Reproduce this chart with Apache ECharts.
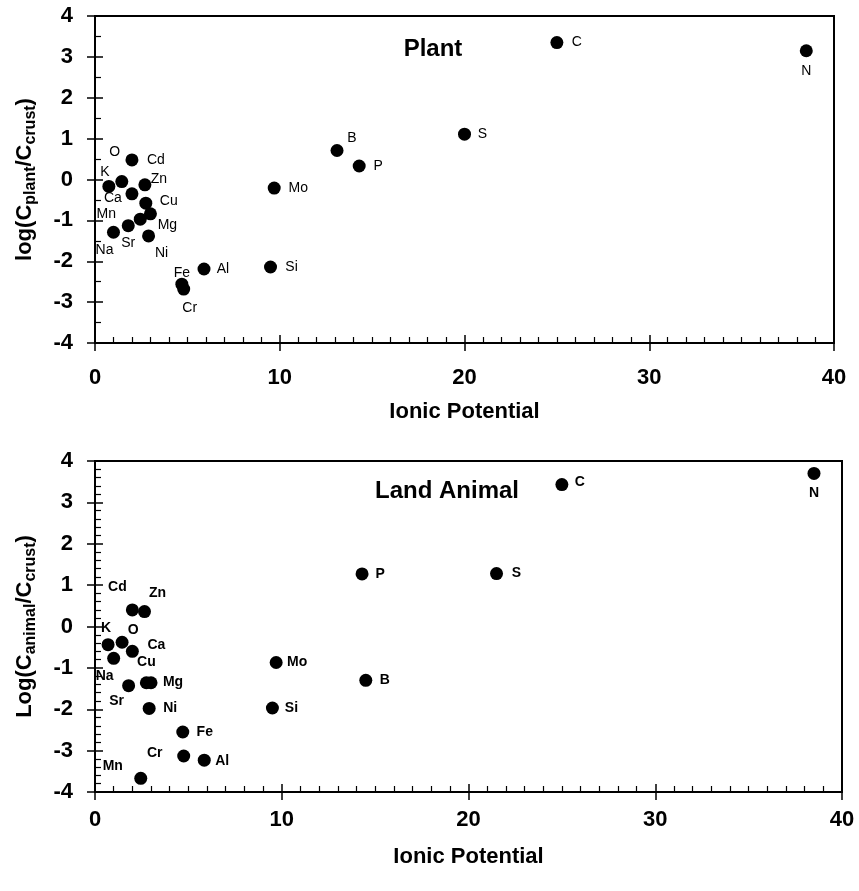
<!DOCTYPE html>
<html>
<head>
<meta charset="utf-8">
<script src="https://cdn.jsdelivr.net/npm/echarts@6/dist/echarts.min.js"></script>
<style>
  html, body { margin: 0; padding: 0; background: #fff; }
  #container { width: 859px; height: 891px; }
</style>
</head>
<body>
<div id="container"></div>
<script>
// plant panel
const plantElements = ['C', 'N', 'B', 'P', 'S', 'Mo', 'Si', 'Al', 'Fe', 'Cr', 'Cd', 'O', 'K', 'Zn', 'Ca', 'Cu', 'Mn', 'Mg', 'Sr', 'Na', 'Ni'];
const plantIonic = [25.0, 38.5, 13.1, 14.3, 20.0, 9.7, 9.5, 5.9, 4.7, 4.8, 2.0, 1.45, 0.75, 2.7, 2.0, 2.75, 2.45, 3.0, 1.8, 1.0, 2.9];
const plantLog = [3.35, 3.15, 0.71, 0.33, 1.11, -0.21, -2.14, -2.19, -2.56, -2.68, 0.48, -0.05, -0.17, -0.13, -0.35, -0.58, -0.97, -0.84, -1.13, -1.29, -1.38];

// land animal panel
const animalElements = ['C', 'N', 'P', 'S', 'Mo', 'B', 'Si', 'Cd', 'Zn', 'K', 'O', 'Ca', 'Na', 'Cu', 'Mg', 'Sr', 'Ni', 'Fe', 'Cr', 'Al', 'Mn'];
const animalIonic = [25.0, 38.5, 14.3, 21.5, 9.7, 14.5, 9.5, 2.0, 2.65, 0.7, 1.45, 2.0, 1.0, 2.75, 3.0, 1.8, 2.9, 4.7, 4.75, 5.85, 2.45];
const animalLog = [3.43, 3.7, 1.27, 1.28, -0.87, -1.3, -1.97, 0.4, 0.36, -0.44, -0.38, -0.6, -0.77, -1.36, -1.36, -1.43, -1.98, -2.55, -3.13, -3.23, -3.67];

const xTicks = [0, 10, 20, 30, 40];
const yTicks = [-4, -3, -2, -1, 0, 1, 2, 3, 4];

// where each element name sits relative to its dot (px)
const plantLabelOffset = {
  C: [20, 0], N: [0, 20], B: [15, -12], P: [19, 0], S: [18, 0], Mo: [24, 0], Si: [21, 0],
  Al: [19, 0], Fe: [0, -11], Cr: [6, 19], Cd: [24, 0], O: [-7, -29], K: [-4, -14],
  Zn: [14, -6], Ca: [-19, 4], Cu: [23, -2], Mn: [-34, -5], Mg: [17, 11], Sr: [0, 17],
  Na: [-9, 18], Ni: [13, 17]
};
const animalLabelOffset = {
  C: [18, -2], N: [0, 20], P: [18, 0], S: [20, 0], Mo: [21, 0], B: [19, 0], Si: [19, 0],
  Cd: [-15, -23], Zn: [13, -18], K: [-2, -17], O: [11, -12], Ca: [24, -6], Na: [-9, 18],
  Cu: [0, -21], Mg: [22, -1], Sr: [-12, 15], Ni: [21, 0], Fe: [22, 0], Cr: [-29, -3],
  Al: [18, 1], Mn: [-28, -12]
};

const FONT = '"Liberation Sans", Arial, sans-serif';

function points(names, xs, ys, offsets, bold) {
  return names.map((n, i) => ({
    name: n,
    value: [xs[i], ys[i]],
    label: {
      show: true,
      formatter: n,
      position: 'inside',
      offset: offsets[n],
      color: '#000',
      fontFamily: FONT,
      fontSize: 14,
      fontWeight: bold ? 'bold' : 'normal'
    }
  }));
}

const tickLabel = { color: '#000', fontFamily: FONT, fontSize: 22, fontWeight: 'bold' };
const blackLine = { color: '#000', width: 2 };

function xAxes(grid, labelMargin, nameGap) {
  return [
    {
      gridIndex: grid, type: 'value', min: xTicks[0], max: xTicks[xTicks.length - 1], interval: 10,
      axisLine: { onZero: false, lineStyle: blackLine },
      axisTick: { inside: false, length: 8, lineStyle: { color: '#000', width: 1.5 } },
      axisLabel: Object.assign({ margin: labelMargin }, tickLabel),
      splitLine: { show: false },
      name: 'Ionic Potential', nameLocation: 'middle', nameGap: nameGap,
      nameTextStyle: { color: '#000', fontFamily: FONT, fontSize: 22, fontWeight: 'bold' }
    },
    {
      gridIndex: grid, type: 'value', min: xTicks[0], max: xTicks[xTicks.length - 1], interval: 10,
      position: 'bottom',
      axisLine: { onZero: false, lineStyle: blackLine },
      axisTick: { inside: true, length: 8, lineStyle: { color: '#000', width: 1.5 } },
      minorTick: { show: true, splitNumber: 10, length: 6, lineStyle: { color: '#000', width: 1.2 } },
      axisLabel: { show: false },
      splitLine: { show: false }
    }
  ];
}

function yAxes(grid, minorSplit, name, nameGap) {
  return [
    {
      gridIndex: grid, type: 'value', min: yTicks[0], max: yTicks[yTicks.length - 1], interval: 1,
      axisLine: { onZero: false, lineStyle: blackLine },
      axisTick: { inside: false, length: 8, lineStyle: { color: '#000', width: 1.5 } },
      axisLabel: Object.assign({ margin: 22 }, tickLabel),
      splitLine: { show: false },
      name: name, nameLocation: 'middle', nameGap: nameGap,
      nameTextStyle: {
        rich: {
          a: { color: '#000', fontFamily: FONT, fontSize: 22, fontWeight: 'bold', lineHeight: 28 },
          s: { color: '#000', fontFamily: FONT, fontSize: 16, fontWeight: 'bold', verticalAlign: 'bottom' }
        }
      }
    },
    {
      gridIndex: grid, type: 'value', min: yTicks[0], max: yTicks[yTicks.length - 1], interval: 1,
      position: 'left',
      axisLine: { onZero: false, lineStyle: blackLine },
      axisTick: { inside: true, length: 8, lineStyle: { color: '#000', width: 1.5 } },
      minorTick: { show: true, splitNumber: minorSplit, length: 6, lineStyle: { color: '#000', width: 1.2 } },
      axisLabel: { show: false },
      splitLine: { show: false }
    }
  ];
}

const chart = echarts.init(document.getElementById('container'), null, { renderer: 'canvas' });

const option = {
  backgroundColor: '#fff',
  animation: false,
  title: [
    { text: 'Plant', left: 428, top: 32, textAlign: 'center',
      textStyle: { color: '#000', fontFamily: FONT, fontSize: 24, fontWeight: 'bold' } },
    { text: 'Land Animal', left: 442, top: 474, textAlign: 'center',
      textStyle: { color: '#000', fontFamily: FONT, fontSize: 24, fontWeight: 'bold' } }
  ],
  grid: [
    { left: 95, right: 25, top: 16, height: 327, show: true, borderColor: '#000', borderWidth: 2, containLabel: false },
    { left: 95, right: 17, top: 461, height: 331, show: true, borderColor: '#000', borderWidth: 2, containLabel: false }
  ],
  xAxis: xAxes(0, 24, 58).concat(xAxes(1, 17, 54)),
  yAxis: yAxes(0, 2, '{a|log(C}{s|plant}{a|/C}{s|crust}{a|)}', 56)
    .concat(yAxes(1, 5, '{a|Log(C}{s|animal}{a|/C}{s|crust}{a|)}', 56)),
  series: [
    {
      type: 'scatter', xAxisIndex: 0, yAxisIndex: 0,
      symbolSize: 13, itemStyle: { color: '#000', opacity: 1 },
      data: points(plantElements, plantIonic, plantLog, plantLabelOffset, false)
    },
    {
      type: 'scatter', xAxisIndex: 2, yAxisIndex: 2,
      symbolSize: 13, itemStyle: { color: '#000', opacity: 1 },
      data: points(animalElements, animalIonic, animalLog, animalLabelOffset, true)
    }
  ]
};

chart.setOption(option);
</script>
</body>
</html>
